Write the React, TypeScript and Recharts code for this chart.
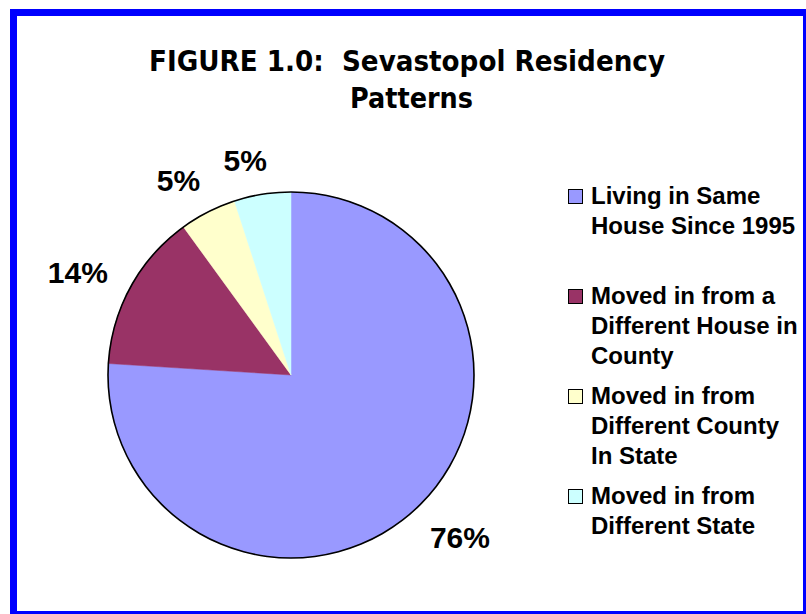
import React from 'react';
import { PieChart, Pie, Cell, Legend } from 'recharts';

const categories = [
  'Living in Same\nHouse Since 1995',
  'Moved in from a\nDifferent House in\nCounty',
  'Moved in from\nDifferent County\nIn State',
  'Moved in from\nDifferent State',
];
const shares = [76, 14, 5, 5];
const colors = ['#9999FF', '#993366', '#FFFFCC', '#CCFFFF'];
const titleLines = ['FIGURE 1.0:  Sevastopol Residency', 'Patterns'];

const data = categories.map((name, i) => ({ name, value: shares[i], fill: colors[i] }));
const ringData = [{ name: 'outline', value: shares.reduce((a, b) => a + b, 0) }];

const ARIAL = '"Liberation Sans", Arial, Helvetica, sans-serif';

const renderLabel = (props: any) => {
  const { cx, cy, midAngle, outerRadius, value } = props;
  const text = `${value}%`;
  const fs = 30;
  const w = (text.length - 1) * 0.556 * fs + 0.889 * fs;
  const h = 0.716 * fs;
  const rad = ((midAngle + 3) * Math.PI) / 180;
  const c = Math.cos(rad);
  const s = Math.sin(rad);
  const d = outerRadius + 22 + 0.5 * (w * Math.abs(c) + h * Math.abs(s));
  const x = cx + d * c;
  const y = cy - d * s;
  return (
    <text
      x={x}
      y={y + h / 2}
      textAnchor="middle"
      fontFamily={ARIAL}
      fontWeight="bold"
      fontSize={fs}
      fill="#000"
    >
      {text}
    </text>
  );
};

const renderLegend = (props: any) => {
  const items = (props.payload || [])
    .filter((p: any) => p.type !== 'none' && categories.indexOf(p.value) >= 0)
    .slice()
    .sort((a: any, b: any) => categories.indexOf(a.value) - categories.indexOf(b.value));
  return (
    <div
      style={{
        fontFamily: ARIAL,
        fontWeight: 'bold',
        fontSize: 24,
        lineHeight: '30px',
        color: '#000',
      }}
    >
      {items.map((p: any, i: number) => {
        const idx = categories.indexOf(p.value);
        return (
          <div
            key={i}
            style={{
              display: 'flex',
              alignItems: 'flex-start',
              height: i < items.length - 1 ? 100 : 'auto',
            }}
          >
            <span
              style={{
                display: 'block',
                width: 13,
                height: 13,
                border: '1px solid #000',
                background: colors[idx],
                marginTop: 8,
                marginRight: 8,
                flex: 'none',
              }}
            />
            <span style={{ whiteSpace: 'pre-line' }}>{p.value}</span>
          </div>
        );
      })}
    </div>
  );
};

export default function App() {
  return (
    <div
      style={{
        position: 'absolute',
        left: 0,
        top: 0,
        width: 806,
        height: 614,
        overflow: 'hidden',
        background: '#fff',
      }}
    >
      <div
        style={{
          position: 'absolute',
          left: 10,
          top: 9,
          width: 786,
          height: 595,
          border: '7px solid #0000FF',
        }}
      />
      <div style={{ position: 'absolute', left: 0, top: 0 }}>
        <PieChart width={806} height={614} margin={{ top: 0, right: 0, bottom: 0, left: 0 }}>
          <Pie
            data={data}
            dataKey="value"
            nameKey="name"
            cx={291}
            cy={375}
            outerRadius={183}
            startAngle={90}
            endAngle={-270}
            label={renderLabel}
            labelLine={false}
            isAnimationActive={false}
          >
            {data.map((d, i) => (
              <Cell key={i} fill={colors[i]} stroke={colors[i]} strokeWidth={0.5} />
            ))}
          </Pie>
          <Pie
            data={ringData}
            dataKey="value"
            nameKey="name"
            cx={291}
            cy={375}
            innerRadius={182.2}
            outerRadius={183.8}
            startAngle={90}
            endAngle={-270}
            fill="#000"
            stroke="none"
            legendType="none"
            isAnimationActive={false}
          />
          <Legend
            layout="vertical"
            align="right"
            verticalAlign="top"
            itemSorter={null as any}
            content={renderLegend}
            wrapperStyle={{ left: 568, top: 181, width: 238 }}
          />
        </PieChart>
      </div>
      <svg
        width={806}
        height={614}
        style={{ position: 'absolute', left: 0, top: 0, pointerEvents: 'none' }}
      >
        <text
          x={149}
          y={71}
          fontFamily='"DejaVu Sans", Verdana, sans-serif'
          fontWeight="bold"
          fontSize={29}
          textLength={516}
          lengthAdjust="spacingAndGlyphs"
          fill="#000"
          style={{ whiteSpace: 'pre' }}
        >
          {titleLines[0]}
        </text>
        <text
          x={350}
          y={108}
          fontFamily='"DejaVu Sans", Verdana, sans-serif'
          fontWeight="bold"
          fontSize={29}
          textLength={123}
          lengthAdjust="spacingAndGlyphs"
          fill="#000"
        >
          {titleLines[1]}
        </text>
      </svg>
    </div>
  );
}
